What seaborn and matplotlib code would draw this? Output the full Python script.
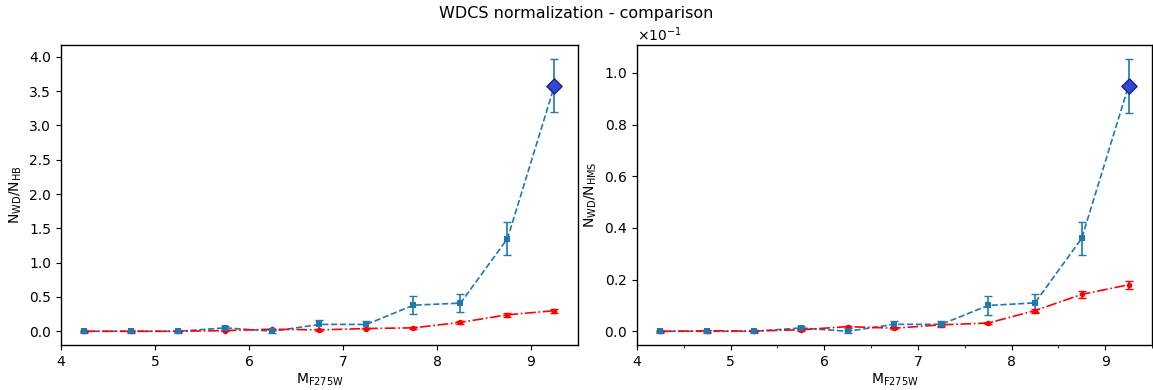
import matplotlib
matplotlib.use("Agg")
import matplotlib.pyplot as plt
import seaborn as sns
import pandas as pd
import numpy as np
from matplotlib.ticker import ScalarFormatter, AutoMinorLocator

sns.set_style("ticks", {"text.color": "black", "axes.labelcolor": "black",
                        "xtick.color": "black", "ytick.color": "black",
                        "axes.edgecolor": "black"})
plt.rcParams['font.family'] = ['DejaVu Sans']
plt.rcParams['xtick.direction'] = 'out'
plt.rcParams['ytick.direction'] = 'out'

# magnitude bins
mag = [4.25, 4.75, 5.25, 5.75, 6.25, 6.75, 7.25, 7.75, 8.25, 8.75, 9.25]

# WD / HB ratio
hb_obs = [0.0, 0.0, 0.0, 0.05, 0.0, 0.10, 0.10, 0.38, 0.41, 1.35, 3.58]
hb_obs_err = [0.02, 0.02, 0.02, 0.03, 0.02, 0.06, 0.05, 0.13, 0.13, 0.24, 0.39]
hb_mod = [0.0, 0.0, 0.0, 0.01, 0.03, 0.02, 0.04, 0.05, 0.13, 0.24, 0.30]
hb_mod_err = [0.01, 0.01, 0.01, 0.01, 0.01, 0.01, 0.01, 0.01, 0.02, 0.03, 0.03]

# WD / HMS ratio
hms_obs = [0.0, 0.0, 0.0, 0.0013, 0.0, 0.0027, 0.0027, 0.0100, 0.0110, 0.0360, 0.0950]
hms_obs_err = [0.0005, 0.0005, 0.0005, 0.0008, 0.0005, 0.0012, 0.0012, 0.0035, 0.0035, 0.0065, 0.0105]
hms_mod = [0.0, 0.0002, 0.0001, 0.0006, 0.0018, 0.0012, 0.0025, 0.0032, 0.0080, 0.0143, 0.0180]
hms_mod_err = [0.0003, 0.0003, 0.0003, 0.0004, 0.0004, 0.0004, 0.0005, 0.0005, 0.0008, 0.0013, 0.0015]

fig = plt.figure(figsize=(11.53, 3.9), dpi=100)
ax1 = fig.add_axes([0.0529, 0.1154, 0.4484, 0.769])
ax2 = fig.add_axes([0.5525, 0.1154, 0.4466, 0.769])


def draw(ax, obs, obs_err, mod, mod_err):
    df = pd.DataFrame({"mag": mag, "obs": obs, "mod": mod})
    # observed: dashed blue with squares, last point a diamond
    ax.errorbar(df["mag"], df["obs"], yerr=obs_err, fmt="none",
                ecolor="tab:blue", capsize=3, elinewidth=1.2, zorder=2)
    sns.lineplot(data=df, x="mag", y="obs", ax=ax, color="tab:blue",
                 linestyle="--", linewidth=1.2, zorder=3)
    sns.scatterplot(data=df.iloc[:-1], x="mag", y="obs", ax=ax,
                    color="tab:blue", marker="s", s=25, linewidth=0, zorder=4)
    sns.scatterplot(data=df.iloc[-1:], x="mag", y="obs", ax=ax,
                    color="#3348d4", marker="D", s=60, edgecolor="#1a237e",
                    linewidth=1, zorder=5)
    # model: dash-dot red with dots
    ax.errorbar(df["mag"], df["mod"], yerr=mod_err, fmt="none",
                ecolor="red", capsize=3, elinewidth=1.2, zorder=2)
    sns.lineplot(data=df, x="mag", y="mod", ax=ax, color="red",
                 linestyle="-.", linewidth=1.2, marker="o", markersize=4,
                 markeredgewidth=0, zorder=3)
    ax.set_xlim(4, 9.5)
    ax.set_xlabel(r"$\mathregular{M_{F275W}}$", fontsize=10, labelpad=2)
    for s in ax.spines.values():
        s.set_linewidth(1.0)


draw(ax1, hb_obs, hb_obs_err, hb_mod, hb_mod_err)
ax1.set_ylim(-0.2, 4.17)
ax1.set_yticks(np.arange(0, 4.01, 0.5))
ax1.set_ylabel(r"$\mathregular{N_{WD}/N_{HB}}$", fontsize=10)

draw(ax2, hms_obs, hms_obs_err, hms_mod, hms_mod_err)
ax2.set_ylim(-0.0053, 0.1108)
ax2.set_yticks(np.arange(0, 0.101, 0.02))
fmt = ScalarFormatter(useMathText=True)
fmt.set_powerlimits((-1, -1))
ax2.yaxis.set_major_formatter(fmt)
ax2.xaxis.set_minor_locator(AutoMinorLocator(2))
ax2.set_ylabel(r"$\mathregular{N_{WD}/N_{HMS}}$", fontsize=10)

for ax in (ax1, ax2):
    ax.tick_params(labelsize=10)
    ax.yaxis.get_offset_text().set_fontsize(10)

fig.suptitle("WDCS normalization - comparison", fontsize=11.5, y=0.985)

fig.savefig("out.png", dpi=100)
